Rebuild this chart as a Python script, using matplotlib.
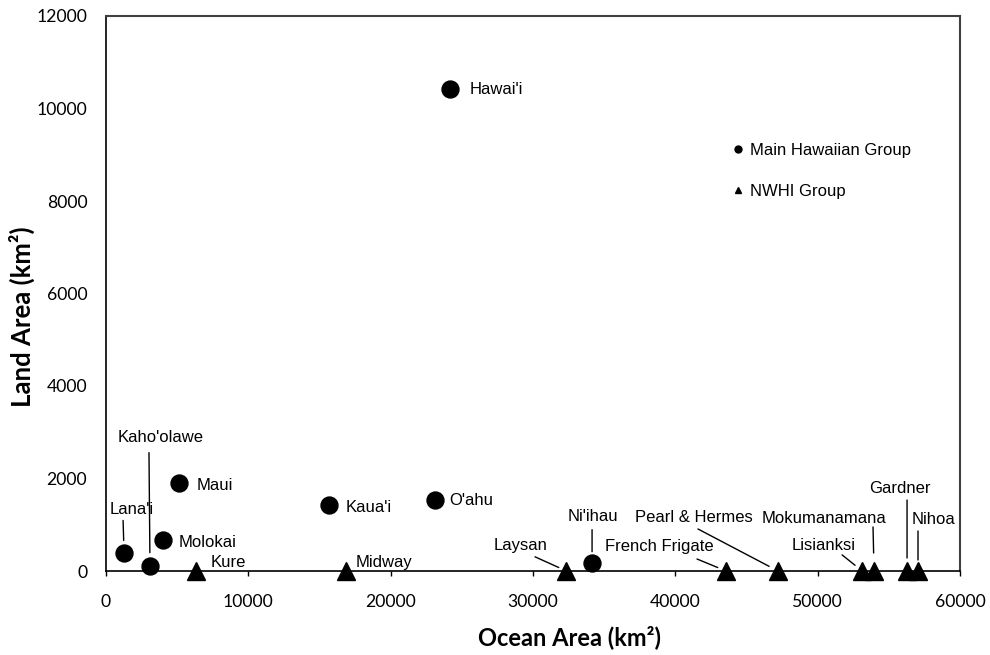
import matplotlib.pyplot as plt
from matplotlib.lines import Line2D

# main Hawaiian islands: ocean area vs land area (km2)
main_names = ["Hawai'i", "Maui", "Kaua'i", "O'ahu", "Molokai", "Lana'i", "Kaho'olawe", "Ni'ihau"]
main_ocean = [24170, 5130, 15670, 23120, 4000, 1270, 3090, 34150]
main_land = [10432, 1900, 1430, 1545, 673, 380, 116, 180]

# northwestern Hawaiian islands
nwhi_names = ["Kure", "Midway", "Laysan", "French Frigate", "Pearl & Hermes",
              "Lisianksi", "Mokumanamana", "Gardner", "Nihoa"]
nwhi_ocean = [6320, 16860, 32320, 43560, 47210, 53120, 53960, 56280, 57050]
nwhi_land = [1, 6, 4, 0.3, 0.4, 2, 0.2, 0.02, 0.7]

# label placement in pixels from the marker: dx, dy, ha, leader (start dx, start dy, gap)
label_layout = {
    "Hawai'i": (20, -1, 'left', None),
    "Maui": (18, -2, 'left', None),
    "Kaua'i": (17, -3, 'left', None),
    "O'ahu": (14, -1, 'left', None),
    "Molokai": (16, -3, 'left', None),
    "Lana'i": (8, 44, 'center', (-1, 33, 13)),
    "Kaho'olawe": (11, 128, 'center', (-1, 113, 13)),
    "Ni'ihau": (1, 46, 'center', (0, 33, 11)),
    "Kure": (15, 8, 'left', None),
    "Midway": (10, 8, 'left', None),
    "Laysan": (-45, 25, 'center', (-31, 14, 8)),
    "French Frigate": (-67, 24, 'center', (-29, 12, 9)),
    "Pearl & Hermes": (-84, 53, 'center', (-80, 42, 10)),
    "Lisianksi": (-38, 25, 'center', (-20, 16, 9)),
    "Mokumanamana": (-50, 52, 'center', (-1, 44, 18)),
    "Gardner": (-7, 82, 'center', (0, 71, 13)),
    "Nihoa": (15, 51, 'center', (0, 40, 11)),
}

label_font = 'Liberation Sans'

fig = plt.figure(figsize=(9.9, 6.55), dpi=100)
ax = fig.add_axes([106 / 990, 84 / 655, 854 / 990, 555 / 655])

ax.plot(main_ocean, main_land, 'o', color='black', markersize=12.2,
        linestyle='none', clip_on=False, zorder=3)
ax.plot(nwhi_ocean, nwhi_land, '^', color='black', markersize=13.3,
        linestyle='none', clip_on=False, zorder=3)

for names, xs, ys in [(main_names, main_ocean, main_land),
                      (nwhi_names, nwhi_ocean, nwhi_land)]:
    for name, x, y in zip(names, xs, ys):
        dx, dy, ha, leader = label_layout[name]
        ax.annotate(name, xy=(x, y), xytext=(dx, dy), textcoords='offset pixels',
                    ha=ha, va='center', fontsize=12, family=label_font)
        if leader:
            lx, ly, gap = leader
            ax.annotate('', xy=(x, y), xytext=(lx, ly), textcoords='offset pixels',
                        arrowprops=dict(arrowstyle='-', color='black', lw=1,
                                        shrinkA=0, shrinkB=gap * 0.72))

ax.set_xlim(0, 60000)
ax.set_ylim(0, 12000)
ax.set_xticks(range(0, 60001, 10000))
ax.set_yticks(range(0, 12001, 2000))
ax.tick_params(axis='x', direction='out', length=3.6, width=1, pad=13,
               labelsize=12.7)
ax.tick_params(axis='y', length=0, pad=13.5, labelsize=12.7)
for lab in ax.get_xticklabels() + ax.get_yticklabels():
    lab.set_family('Lato')

for side in ['left', 'bottom']:
    ax.spines[side].set_color('black')
    ax.spines[side].set_linewidth(1.2)
for side in ['top', 'right']:
    ax.spines[side].set_color('#404040')
    ax.spines[side].set_linewidth(1.5)

ax.set_xlabel('Ocean Area (km²)', family='Lato', fontweight='bold', fontsize=17)
ax.set_ylabel('Land Area (km²)', family='Lato', fontweight='bold', fontsize=18.5)
ax.xaxis.set_label_coords((569 - 106) / 854, (571 - 625) / 555)
ax.yaxis.set_label_coords((35 - 106) / 854, (571 - 317) / 555)

handles = [Line2D([], [], marker='o', color='black', linestyle='none', markersize=5),
           Line2D([], [], marker='^', color='black', linestyle='none', markersize=5)]
ax.legend(handles, ['Main Hawaiian Group', 'NWHI Group'], loc='upper left',
          bbox_to_anchor=((733 - 106) / 854, (571 - 143) / 555), frameon=False,
          borderpad=0, borderaxespad=0, handlelength=0.6, handletextpad=0.4,
          labelspacing=1.55, prop={'family': label_font, 'size': 12})

fig.savefig('out.png', dpi=100)
